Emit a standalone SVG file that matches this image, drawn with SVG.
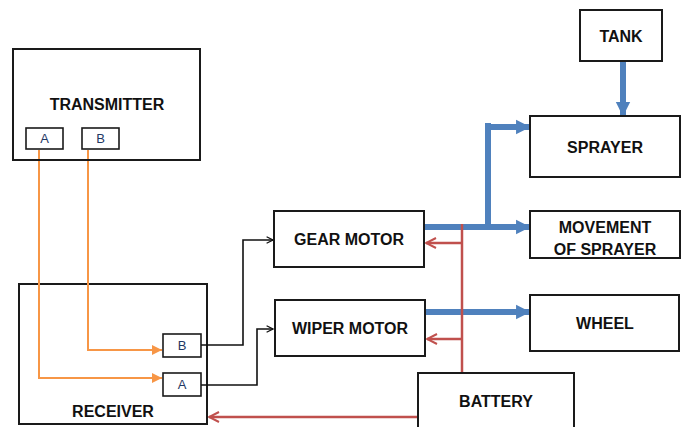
<svg xmlns="http://www.w3.org/2000/svg" width="686" height="427" viewBox="0 0 686 427">
<style>
.box{fill:#fff;stroke:#1a1a1a;stroke-width:2}
.sbox{fill:#fff;stroke:#1a1a1a;stroke-width:1.6}
.t{font-family:"Liberation Sans",Arial,sans-serif;font-weight:bold;font-size:16px;fill:#111;text-anchor:middle}
.s{font-family:"Liberation Sans",Arial,sans-serif;font-size:13px;fill:#1f3864;text-anchor:middle}
.or{fill:none;stroke:#F79646;stroke-width:2}
.bk{fill:none;stroke:#111;stroke-width:1.6}
.rd{fill:none;stroke:#C0504D;stroke-width:2.5}
.bl{fill:none;stroke:#4F81BD;stroke-width:6}
</style>
<defs>
<marker id="ao" viewBox="0 0 10 10" refX="10" refY="5" markerWidth="5" markerHeight="5" orient="auto" markerUnits="strokeWidth"><path d="M0,0 L10,5 L0,10 z" fill="#F79646"/></marker>
<marker id="ak" viewBox="0 0 10 10" refX="9" refY="5" markerWidth="5" markerHeight="5" orient="auto" markerUnits="strokeWidth"><path d="M1,1 L9,5 L1,9" fill="none" stroke="#111" stroke-width="1.6"/></marker>
<marker id="ar" viewBox="0 0 10 10" refX="9" refY="5" markerWidth="5" markerHeight="5" orient="auto" markerUnits="strokeWidth"><path d="M1,1 L9,5 L1,9" fill="none" stroke="#C0504D" stroke-width="1.6"/></marker>
<marker id="ab" viewBox="0 0 10 10" refX="9" refY="5" markerWidth="2.4" markerHeight="2.8" orient="auto" markerUnits="strokeWidth"><path d="M0,0 L10,5 L0,10 z" fill="#4F81BD"/></marker>
</defs>

<g id="receiver">
<rect class="box" x="19" y="284" width="188" height="140"/>
<text class="t" x="113" y="417">RECEIVER</text>
</g>

<g id="connectors">
<path class="or" d="M39,150 V378 H162" marker-end="url(#ao)"/>
<path class="or" d="M88,150 V350 H162" marker-end="url(#ao)"/>
<path class="bk" d="M201,345 H243 V240 H273" marker-end="url(#ak)"/>
<path class="bk" d="M195,385 H257 V329 H273" marker-end="url(#ak)"/>
<path class="bl" d="M424,227 H529" marker-end="url(#ab)"/>
<path class="bl" d="M488,123 V227"/>
<path class="bl" d="M491,127 H529" marker-end="url(#ab)"/>
<path class="bl" d="M623,61 V115" marker-end="url(#ab)"/>
<path class="bl" d="M425,312 H529" marker-end="url(#ab)"/>
<path class="rd" d="M462,224 V373"/>
<path class="rd" d="M462,243 H426" marker-end="url(#ar)"/>
<path class="rd" d="M462,339 H427" marker-end="url(#ar)"/>
<path class="rd" d="M418,417 H209" marker-end="url(#ar)"/>
</g>

<g id="receiver-ports">
<rect class="sbox" x="163" y="334" width="38" height="23"/>
<text class="s" x="182" y="350">B</text>
<rect class="sbox" x="163" y="373" width="38" height="23"/>
<text class="s" x="182" y="389">A</text>
</g>

<g id="transmitter">
<rect class="box" x="13" y="49" width="187" height="111" style="fill:none"/>
<text class="t" x="107" y="110">TRANSMITTER</text>
<rect class="sbox" x="26" y="128" width="37" height="21"/>
<text class="s" x="44.5" y="143">A</text>
<rect class="sbox" x="82" y="128" width="37" height="21"/>
<text class="s" x="100.5" y="143">B</text>
</g>

<g id="gear-motor">
<rect class="box" x="274" y="211" width="150" height="56"/>
<text class="t" x="349" y="245">GEAR MOTOR</text>
</g>

<g id="wiper-motor">
<rect class="box" x="275" y="300" width="150" height="56"/>
<text class="t" x="350" y="334">WIPER MOTOR</text>
</g>

<g id="tank">
<rect class="box" x="580" y="10" width="82" height="51"/>
<text class="t" x="621" y="42">TANK</text>
</g>

<g id="sprayer">
<rect class="box" x="530" y="116" width="150" height="61"/>
<text class="t" x="605" y="153">SPRAYER</text>
</g>

<g id="movement-of-sprayer">
<rect class="box" x="530" y="211" width="150" height="47"/>
<text class="t" x="605" y="233">MOVEMENT</text>
<text class="t" x="605" y="255">OF SPRAYER</text>
</g>

<g id="wheel">
<rect class="box" x="530" y="295" width="149" height="56"/>
<text class="t" x="605" y="329">WHEEL</text>
</g>

<g id="battery">
<rect class="box" x="418" y="373" width="156" height="60"/>
<text class="t" x="496" y="407">BATTERY</text>
</g>
</svg>
